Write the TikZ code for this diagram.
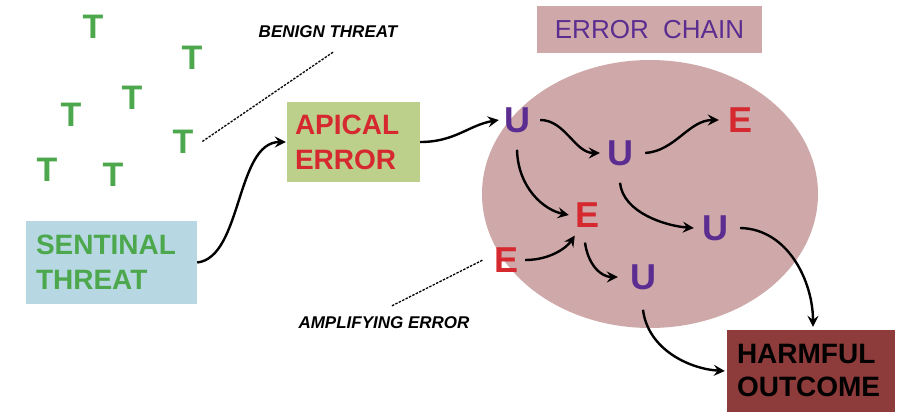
\documentclass[tikz,border=0pt]{standalone}
\usepackage{fontspec}
\setmainfont{Liberation Sans}
\usetikzlibrary{arrows.meta,shapes.geometric}

\definecolor{tgreen}{RGB}{77,168,77}
\definecolor{sentblue}{RGB}{183,215,227}
\definecolor{apicgreen}{RGB}{188,208,140}
\definecolor{errred}{RGB}{214,40,47}
\definecolor{chainpink}{RGB}{207,169,169}
\definecolor{upurple}{RGB}{91,45,144}
\definecolor{harmred}{RGB}{142,59,59}

\tikzset{
  tletter/.style={font=\bfseries\fontsize{34}{34}\selectfont, text=tgreen, inner sep=2pt},
  uletter/.style={font=\bfseries\fontsize{36}{36}\selectfont, text=upurple, inner sep=2pt},
  eletter/.style={font=\bfseries\fontsize{36}{36}\selectfont, text=errred, inner sep=2pt},
  boxtext/.style={font=\bfseries\fontsize{28}{35}\selectfont, align=left, inner ysep=0pt, anchor=center},
  smalllabel/.style={font=\bfseries\itshape\fontsize{17}{17}\selectfont, inner sep=2pt},
  arr/.style={line width=2.4pt, -{Stealth[length=11pt,width=11pt,inset=4pt]}},
  pointer/.style={line width=1.3pt, dash pattern=on 2.4pt off 1.4pt}
}

\begin{document}
\begin{tikzpicture}[x=1pt,y=-1pt]
\useasboundingbox (0,0) rectangle (897,420);

% error chain region and its title
\node[ellipse, fill=chainpink, minimum width=336pt, minimum height=268pt, inner sep=0pt] (chain) at (650,194) {};
\node[fill=chainpink, minimum width=225pt, minimum height=47pt, inner sep=0pt,
      font=\fontsize{26}{26}\selectfont, text=upurple] (title) at (649.5,29.5) {ERROR\ \ CHAIN};

% scattered benign threats
\node[tletter] (T1) at (93,27) {T};
\node[tletter] (T2) at (192,58) {T};
\node[tletter] (T3) at (132,98) {T};
\node[tletter] (T4) at (71,115) {T};
\node[tletter] (T5) at (183,142) {T};
\node[tletter] (T6) at (47,170) {T};
\node[tletter] (T7) at (113,175) {T};

% labels
\node[smalllabel] (benign) at (328,32) {BENIGN THREAT};
\node[smalllabel] (amp) at (384,323) {AMPLIFYING ERROR};

% boxes
\node[boxtext, fill=sentblue, text=tgreen, minimum height=83pt,
      text width=151pt, inner xsep=10pt] (sent) at (111.5,262.5) {SENTINAL\\THREAT};
\node[boxtext, fill=apicgreen, text=errred, minimum height=80pt,
      text width=117pt, inner xsep=8pt] (apical) at (353.5,142) {APICAL\\ERROR};
\node[boxtext, fill=harmred, text=black, minimum height=82pt,
      text width=148pt, inner xsep=10pt, font=\bfseries\fontsize{28}{33}\selectfont] (harm) at (811,371) {HARMFUL\\OUTCOME};

% chain letters
\node[uletter] (U1) at (517,120) {U};
\node[uletter] (U2) at (620,153) {U};
\node[eletter] (E1) at (740,120) {E};
\node[eletter] (E2) at (587,215) {E};
\node[uletter] (U3) at (715,228) {U};
\node[eletter] (E3) at (507,260) {E};
\node[uletter] (U4) at (643,277) {U};

% pointer lines from the labels
\draw[pointer] ([xshift=5pt,yshift=-12pt]benign.south) -- ([xshift=6pt]T5.east);
\draw[pointer] ([xshift=8pt,yshift=9pt]amp.north) -- ([xshift=-10pt]E3.west);

% causal arrows
\draw[arr] (sent.east) .. controls +(45,-5) and +(-50,0) .. ([xshift=-1pt]apical.west);
\draw[arr] (apical.east) .. controls +(35,0) and +(-30,5) .. ([xshift=-3pt]U1.west);
\draw[arr] ([xshift=8pt]U1.east) .. controls +(25,0) and +(-25,0) .. ([xshift=-5pt]U2.west);
\draw[arr] ([xshift=10pt]U2.east) .. controls +(30,-2) and +(-30,0) .. ([xshift=-7pt]E1.west);
\draw[arr] ([yshift=-15pt]U1.south) .. controls +(1,38) and +(-25,-5) .. ([xshift=-4pt]E2.west);
\draw[arr] ([yshift=-15pt]U2.south) .. controls +(3,30) and +(-28,-2) .. ([xshift=-6pt]U3.west);
\draw[arr] ([xshift=4pt]E3.east) .. controls +(25,0) and +(-8,12) .. ([xshift=2pt,yshift=-6pt]E2.south west);
\draw[arr] ([xshift=-2pt,yshift=-13pt]E2.south) .. controls +(3,22) and +(-17,0) .. ([xshift=-10pt]U4.west);
\draw[arr] ([xshift=10pt]U3.east) .. controls +(48,1) and +(0,-45) .. ([xshift=2pt,yshift=3pt]harm.north);
\draw[arr] ([yshift=-18pt]U4.south) .. controls +(5,40) and +(-35,-2) .. ([xshift=-2pt]harm.west);
\end{tikzpicture}
\end{document}
